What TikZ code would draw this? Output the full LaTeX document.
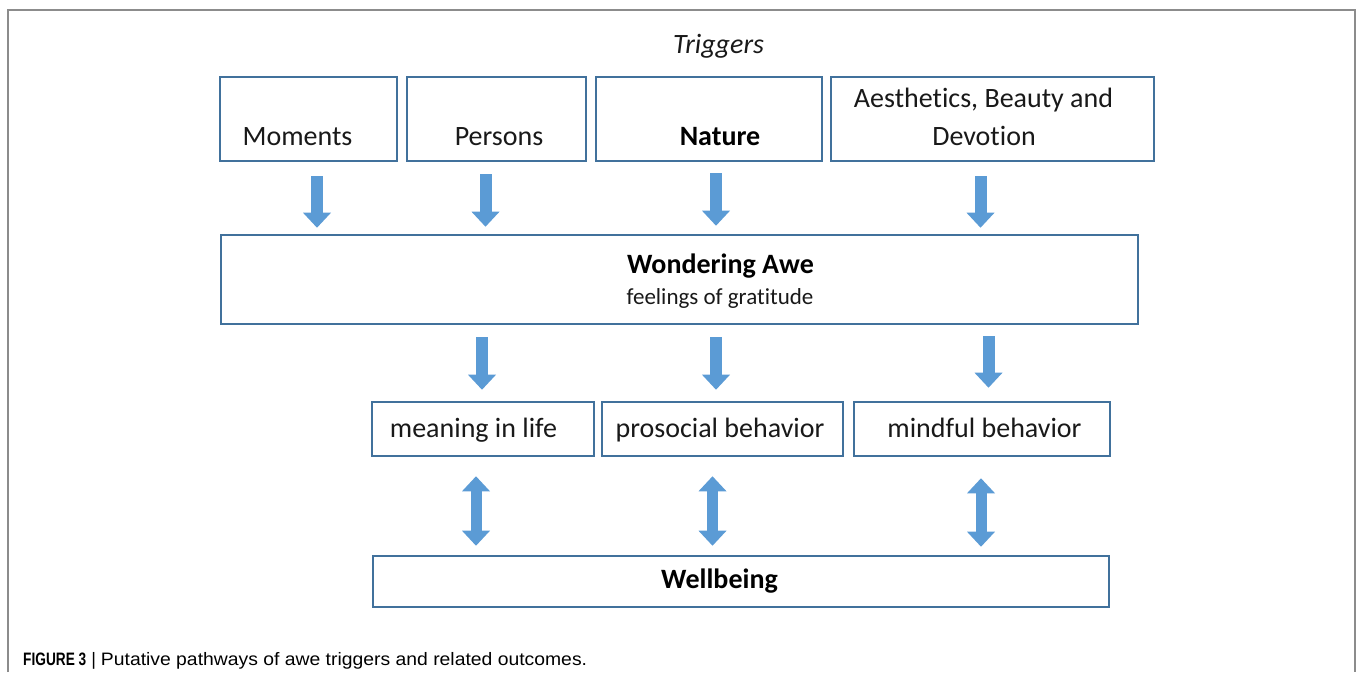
\documentclass[tikz,border=0pt]{standalone}
\usepackage{graphicx}
\usepackage{fontspec}
\setmainfont{Carlito}[Ligatures=CommonOff]
\newfontfamily\capfont{Liberation Sans}
\usetikzlibrary{arrows.meta,calc}
\definecolor{boxblue}{RGB}{65,113,156}
\definecolor{arrowblue}{RGB}{91,155,213}
\definecolor{framegray}{RGB}{140,140,140}
\definecolor{txt}{RGB}{25,25,25}
\tikzset{
  box/.style={draw=boxblue, line width=2.6pt, inner sep=0pt},
  lbl/.style={anchor=base, inner sep=0pt, text=txt, font=\fontsize{28}{34}\selectfont},
  lblb/.style={lbl, text=black, font=\fontsize{28}{34}\selectfont\bfseries},
  fat/.style={draw=arrowblue, line width=12pt,
    -{Triangle[width=28pt,length=15pt,line width=0pt]}},
  fatboth/.style={draw=arrowblue, line width=11pt,
    {Triangle[width=28pt,length=15pt,line width=0pt]}-{Triangle[width=28pt,length=15pt,line width=0pt]}}
}
\begin{document}
\begin{tikzpicture}[x=1pt,y=-1pt]
\useasboundingbox (0,0) rectangle (1357,672);
\fill[white] (0,0) rectangle (1357,672);
\draw[framegray, line width=1.5pt] (8,672) -- (8,10) -- (1355,10) -- (1355,672);

% title
\node[lbl, font=\fontsize{28}{34}\selectfont\itshape] (triggers) at (718.5,53) {Triggers};

% trigger boxes
\node[box, minimum width=177pt, minimum height=84pt] (moments) at (308.5,119) {};
\node[box, minimum width=179pt, minimum height=84pt] (persons) at (496.5,119) {};
\node[box, minimum width=226pt, minimum height=84pt] (nature) at (709,119) {};
\node[box, minimum width=323pt, minimum height=84pt] (aesth) at (992.5,119) {};
\node[lbl] (tmoments) at (297.5,145) {Moments};
\node[lbl] (tpersons) at (499,145) {Persons};
\node[lblb] (tnature) at (720,145) {Nature};
\node[lbl] (taesth1) at (983.5,107) {Aesthetics, Beauty and};
\node[lbl] (taesth2) at (984,145) {Devotion};

% awe box
\node[box, minimum width=917pt, minimum height=89pt] (awe) at (679.5,279.5) {};
\node[lblb] (tawe) at (720.5,273) {Wondering Awe};
\node[lbl, font=\fontsize{23}{28}\selectfont] (tgrat) at (720,304) {feelings of gratitude};

% outcome boxes
\node[box, minimum width=222pt, minimum height=54pt] (meaning) at (483,429) {};
\node[box, minimum width=241pt, minimum height=54pt] (prosocial) at (722.5,429) {};
\node[box, minimum width=256pt, minimum height=54pt] (mindful) at (982,429) {};
\node[lbl] (tmeaning) at (473.5,437) {meaning in life};
\node[lbl] (tprosocial) at (720,437) {prosocial behavior};
\node[lbl] (tmindful) at (984.5,437) {mindful behavior};

% wellbeing
\node[box, minimum width=736pt, minimum height=51pt] (well) at (741,581.5) {};
\node[lblb] (twell) at (719.5,588) {Wellbeing};

% arrows row 1
\coordinate (a1) at ($(moments.south)+(8.5,14)$);
\coordinate (a2) at ($(persons.south)+(-11,12)$);
\coordinate (a3) at ($(nature.south)+(7,11)$);
\coordinate (a4) at ($(aesth.south)+(-12,14)$);
\draw[fat] (a1) -- ($(a1 |- awe.north)+(0,-6)$);
\draw[fat] (a2) -- ($(a2 |- awe.north)+(0,-7)$);
\draw[fat] (a3) -- ($(a3 |- awe.north)+(0,-8)$);
\draw[fat] (a4) -- ($(a4 |- awe.north)+(0,-6)$);

% arrows row 2
\coordinate (b1) at ($(awe.south)+(-197.5,12)$);
\coordinate (b2) at ($(awe.south)+(36.5,12)$);
\coordinate (b3) at ($(awe.south)+(309,11)$);
\draw[fat] (b1) -- ($(b1 |- meaning.north)+(0,-11)$);
\draw[fat] (b2) -- ($(b2 |- prosocial.north)+(0,-11)$);
\draw[fat] (b3) -- ($(b3 |- mindful.north)+(0,-13)$);

% double arrows
\coordinate (c1) at ($(meaning.south)+(-7,19)$);
\coordinate (c2) at ($(prosocial.south)+(-10,19)$);
\coordinate (c3) at ($(mindful.south)+(-1,21)$);
\draw[fatboth] (c1) -- ($(c1 |- well.north)+(0,-9)$);
\draw[fatboth] (c2) -- ($(c2 |- well.north)+(0,-9)$);
\draw[fatboth] (c3) -- ($(c3 |- well.north)+(0,-8)$);

% caption
\node[anchor=base west, inner sep=0pt, font=\capfont\fontsize{18}{22}\selectfont] (caption) at (23,665.5)
  {\scalebox{0.76}[1]{\textbf{FIGURE 3}}\hspace{5pt}|\hspace{5pt}\scalebox{1.075}[1]{Putative pathways of awe triggers and related outcomes.}};
\end{tikzpicture}
\end{document}
